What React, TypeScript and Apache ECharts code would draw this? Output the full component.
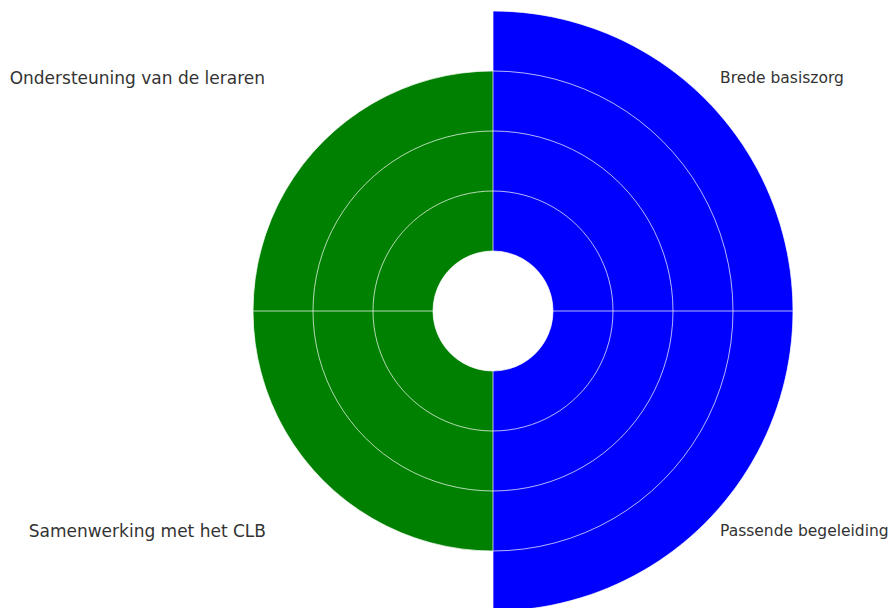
import React, { useEffect, useRef } from "react";
import * as echarts from "echarts";

const categories = [
  "Brede basiszorg",
  "Passende begeleiding",
  "Samenwerking met het CLB",
  "Ondersteuning van de leraren",
];
const values = [4, 4, 3, 3];
const colors = ["#0000ff", "#0000ff", "#008000", "#008000"];
const radiusTicks = [0, 1, 2, 3, 4];

export default function App() {
  const ref = useRef<HTMLDivElement>(null);
  useEffect(() => {
    if (!ref.current) return;
    const chart = echarts.init(ref.current, null, { renderer: "svg" });
    const cx = 493;
    const cy = 311;
    const labelPos = [
      { x: 720, y: 78, align: "left", size: 15.5 },
      { x: 720, y: 531, align: "left", size: 15.5 },
      { x: 266, y: 531, align: "right", size: 17 },
      { x: 265, y: 78, align: "right", size: 17 },
    ];
    const gridColor = "rgba(255,255,255,0.7)";
    chart.setOption({
      animation: false,
      backgroundColor: "#ffffff",
      polar: { center: [cx, cy], radius: [60, 300] },
      angleAxis: {
        type: "category",
        data: categories,
        startAngle: 90,
        clockwise: true,
        z: 5,
        axisLine: { show: false },
        axisTick: { show: false },
        axisLabel: { show: false },
        splitLine: { show: true, lineStyle: { color: gridColor, width: 1 } },
      },
      radiusAxis: {
        type: "value",
        min: radiusTicks[0],
        max: radiusTicks[radiusTicks.length - 1],
        interval: 1,
        z: 5,
        axisLine: { show: false },
        axisTick: { show: false },
        axisLabel: { show: false },
        splitLine: { show: true, lineStyle: { color: gridColor, width: 1 } },
      },
      series: [
        {
          type: "bar",
          coordinateSystem: "polar",
          barCategoryGap: "0%",
          z: 2,
          data: values.map((v, i) => ({ value: v, itemStyle: { color: colors[i] } })),
        },
      ],
      graphic: categories.map((c, i) => ({
        type: "text",
        x: labelPos[i].x,
        y: labelPos[i].y,
        style: {
          text: c,
          fill: "#333",
          font: `${labelPos[i].size}px 'DejaVu Sans'`,
          align: labelPos[i].align,
          verticalAlign: "middle",
        },
      })),
    });
    return () => chart.dispose();
  }, []);
  return <div ref={ref} style={{ width: 894, height: 608, position: "absolute", left: 0, top: 0 }} />;
}
